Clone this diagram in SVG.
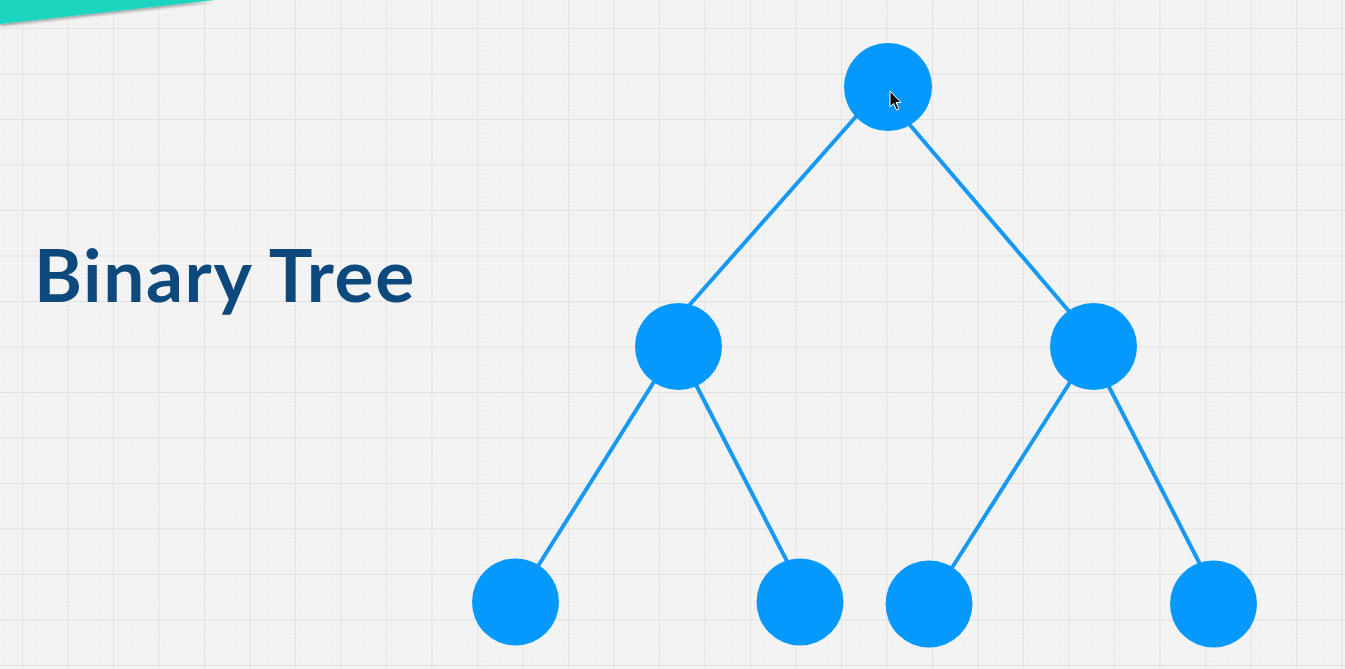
<svg xmlns="http://www.w3.org/2000/svg" width="1345" height="669" viewBox="0 0 1345 669">
  <style>
    .node { fill: #0598fd; }
    .edge { stroke: #1798f2; stroke-width: 4; stroke-linecap: round; fill: none; }
    .title { font-family: Lato, "Open Sans", "Liberation Sans", sans-serif; font-weight: 700; font-size: 73px; letter-spacing: 1.6px; fill: #0d497c; }
  </style>
  <defs>
    <pattern id="minor" x="22" y="28" width="4.55" height="4.55" patternUnits="userSpaceOnUse">
      <path d="M0 0H4.55M0 0V4.55" stroke="#eaeaea" stroke-width="0.6" fill="none"/>
    </pattern>
    <pattern id="major" x="22" y="28" width="45.5" height="45.5" patternUnits="userSpaceOnUse">
      <path d="M0 0H45.5M0 0V45.5" stroke="#e2e2e2" stroke-width="1.8" fill="none"/>
    </pattern>
    <filter id="shadow" x="-10%" y="-50%" width="120%" height="200%">
      <feDropShadow dx="0" dy="2" stdDeviation="1.5" flood-color="#000" flood-opacity="0.35"/>
    </filter>
  </defs>

  <rect width="1345" height="669" fill="#f4f4f4"/>
  <rect width="1345" height="669" fill="url(#minor)"/>
  <rect width="1345" height="669" fill="url(#major)"/>

  <polygon points="0,0 215,0 0,24" fill="#1fd5be" filter="url(#shadow)"/>

  <text class="title" x="34" y="302">Binary Tree</text>

  <g id="connectors">
    <line class="edge" x1="860" y1="112" x2="686" y2="309"/>
    <line class="edge" x1="904" y1="118" x2="1073" y2="316"/>
    <line class="edge" x1="657" y1="377" x2="533" y2="574"/>
    <line class="edge" x1="693" y1="379" x2="791" y2="569"/>
    <line class="edge" x1="1074" y1="376" x2="948" y2="574"/>
    <line class="edge" x1="1105" y1="379" x2="1204" y2="572"/>
  </g>

  <g id="node-root"><circle class="node" cx="888" cy="87" r="44"/></g>
  <g id="node-left"><circle class="node" cx="678.5" cy="346.5" r="43.5"/></g>
  <g id="node-right"><circle class="node" cx="1093.5" cy="346.5" r="43.5"/></g>
  <g id="node-ll"><circle class="node" cx="515.5" cy="602" r="43.5"/></g>
  <g id="node-lr"><circle class="node" cx="800" cy="602" r="43.5"/></g>
  <g id="node-rl"><circle class="node" cx="929" cy="604" r="43.5"/></g>
  <g id="node-rr"><circle class="node" cx="1213.5" cy="604" r="43.5"/></g>

  <g id="cursor">
    <path d="M890 91 L890 107 L893.5 103.5 L896.5 110 L899 109 L896 102.5 L901 102.5 Z" fill="#111" stroke="#fff" stroke-width="1" stroke-linejoin="round"/>
  </g>
</svg>
